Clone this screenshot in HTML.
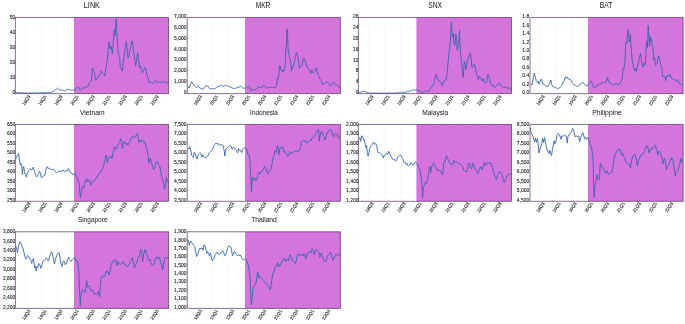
<!DOCTYPE html>
<html><head><meta charset="utf-8"><style>
html,body{margin:0;padding:0;background:#fff;}
svg{display:block;font-family:"Liberation Sans",sans-serif;}
</style></head><body>
<svg width="685" height="324" viewBox="0 0 685 324">
<rect width="685" height="324" fill="#fff"/>
<g><rect x="73.95" y="17.45" width="94.60" height="76.15" fill="#d474dc"/><line x1="25.30" y1="17.45" x2="25.30" y2="93.60" stroke="#f2f2f2" stroke-width="0.5"/><line x1="41.32" y1="17.45" x2="41.32" y2="93.60" stroke="#f2f2f2" stroke-width="0.5"/><line x1="57.34" y1="17.45" x2="57.34" y2="93.60" stroke="#f2f2f2" stroke-width="0.5"/><line x1="89.38" y1="17.45" x2="89.38" y2="93.60" stroke="#d880df" stroke-width="0.5"/><line x1="105.40" y1="17.45" x2="105.40" y2="93.60" stroke="#d880df" stroke-width="0.5"/><line x1="121.42" y1="17.45" x2="121.42" y2="93.60" stroke="#d880df" stroke-width="0.5"/><line x1="137.44" y1="17.45" x2="137.44" y2="93.60" stroke="#d880df" stroke-width="0.5"/><line x1="153.46" y1="17.45" x2="153.46" y2="93.60" stroke="#d880df" stroke-width="0.5"/><polyline points="15.80,92.60 16.49,92.59 17.17,92.61 17.86,92.64 18.54,92.53 19.23,92.56 19.91,92.65 20.60,92.60 21.30,92.61 22.00,92.70 22.70,92.86 23.40,92.92 24.10,92.86 24.80,92.95 25.50,92.95 26.20,93.10 26.91,93.06 27.61,93.10 28.32,93.05 29.02,93.10 29.73,93.02 30.44,92.97 31.14,93.01 31.85,92.99 32.56,92.93 33.26,92.96 33.97,92.98 34.67,92.82 35.38,93.10 36.09,93.08 36.79,92.89 37.50,92.90 38.20,93.10 38.90,92.87 39.60,92.96 40.30,92.71 41.00,92.83 41.70,92.83 42.40,92.60 43.10,92.85 43.80,92.59 44.50,92.64 45.20,92.71 45.90,92.79 46.60,92.61 47.30,92.46 48.00,92.64 48.70,92.60 49.38,92.41 50.06,92.41 50.74,92.19 51.42,92.16 52.10,92.00 52.83,91.52 53.57,91.32 54.30,90.90 54.94,90.46 55.58,89.54 56.22,89.19 56.86,88.73 57.50,88.10 58.13,88.68 58.77,89.42 59.40,89.80 60.10,89.86 60.80,89.99 61.50,90.08 62.20,90.10 62.97,90.31 63.73,90.62 64.50,90.90 65.23,90.45 65.97,90.06 66.70,89.60 67.40,89.54 68.10,89.46 68.80,89.67 69.50,89.40 70.35,89.74 71.20,90.10 71.97,90.21 72.73,90.07 73.50,90.30 74.23,89.77 74.97,89.54 75.70,89.00 76.47,88.34 77.23,87.51 78.00,87.00 78.55,87.44 79.10,87.50 80.00,90.30 80.65,89.70 81.30,89.00 82.07,88.63 82.83,88.55 83.60,88.10 84.28,87.53 84.96,87.71 85.64,87.34 86.32,87.23 87.00,86.70 87.80,86.23 88.60,85.90 89.25,83.47 89.90,81.60 90.55,81.45 91.20,81.00 91.80,74.63 92.40,68.00 93.05,69.65 93.70,70.50 94.30,73.18 94.90,76.00 95.50,78.30 96.10,80.30 96.75,79.34 97.40,77.90 98.00,76.82 98.60,76.52 99.20,76.00 99.83,74.40 100.47,72.73 101.10,71.10 101.70,71.82 102.30,73.17 102.90,74.20 103.53,74.19 104.17,74.93 104.80,76.00 105.40,72.19 106.00,67.40 106.60,64.16 107.20,60.00 108.00,51.50 109.00,41.60 110.00,48.90 110.65,46.37 111.30,46.20 111.85,50.64 112.40,53.50 113.30,41.60 114.30,29.60 115.00,35.60 115.70,25.00 116.20,18.60 117.00,36.90 117.70,45.50 118.30,52.90 119.00,55.65 119.70,56.80 120.20,66.10 120.83,67.59 121.47,69.48 122.10,71.10 122.70,67.45 123.30,61.20 123.95,57.31 124.60,52.00 125.50,47.00 126.30,41.60 127.20,48.20 128.10,58.00 128.90,56.00 129.90,50.20 130.55,47.02 131.20,43.60 131.75,41.85 132.30,40.90 133.20,48.90 133.85,53.26 134.50,57.00 135.50,65.80 136.05,63.14 136.60,61.20 137.60,52.70 138.60,60.40 139.60,68.10 140.40,65.80 141.00,67.87 141.60,71.20 142.15,71.95 142.70,72.70 143.25,71.73 143.80,69.70 144.40,68.32 145.00,67.30 145.80,69.96 146.60,73.50 147.35,76.22 148.10,78.10 148.90,82.80 149.65,82.12 150.40,81.20 151.20,82.47 152.00,83.50 152.75,83.47 153.50,82.80 154.27,82.04 155.03,81.35 155.80,80.40 156.55,81.80 157.30,82.80 158.10,82.29 158.90,81.98 159.70,81.70 160.47,82.26 161.23,82.03 162.00,82.40 162.60,81.63 163.20,81.66 163.80,81.20 164.60,82.00 165.40,83.20 166.15,82.38 166.90,82.00 167.50,83.00 168.10,83.80" fill="none" stroke="#3a68aa" stroke-width="0.92" stroke-linejoin="round"/><rect x="15.40" y="17.45" width="153.15" height="76.15" fill="none" stroke="#4a2556" stroke-opacity="0.65" stroke-width="1.0"/></g><g><rect x="245.05" y="17.45" width="95.35" height="76.15" fill="#d474dc"/><line x1="196.80" y1="17.45" x2="196.80" y2="93.60" stroke="#f2f2f2" stroke-width="0.5"/><line x1="212.82" y1="17.45" x2="212.82" y2="93.60" stroke="#f2f2f2" stroke-width="0.5"/><line x1="228.84" y1="17.45" x2="228.84" y2="93.60" stroke="#f2f2f2" stroke-width="0.5"/><line x1="260.88" y1="17.45" x2="260.88" y2="93.60" stroke="#d880df" stroke-width="0.5"/><line x1="276.90" y1="17.45" x2="276.90" y2="93.60" stroke="#d880df" stroke-width="0.5"/><line x1="292.92" y1="17.45" x2="292.92" y2="93.60" stroke="#d880df" stroke-width="0.5"/><line x1="308.94" y1="17.45" x2="308.94" y2="93.60" stroke="#d880df" stroke-width="0.5"/><line x1="324.96" y1="17.45" x2="324.96" y2="93.60" stroke="#d880df" stroke-width="0.5"/><polyline points="187.90,85.80 188.55,86.88 189.20,88.00 189.80,86.36 190.40,84.70 190.95,83.24 191.50,81.60 192.05,82.10 192.60,83.00 193.15,84.00 193.70,85.20 194.55,86.13 195.40,86.90 196.00,87.12 196.60,87.50 197.40,86.76 198.20,86.10 199.05,87.16 199.90,88.00 200.75,88.49 201.60,88.80 202.45,88.94 203.30,89.20 203.85,88.32 204.40,87.50 204.95,86.51 205.50,85.80 206.35,85.90 207.20,86.10 207.75,86.27 208.30,86.30 208.90,87.43 209.50,88.60 210.35,89.01 211.20,89.20 212.00,88.78 212.80,88.40 213.65,88.43 214.50,88.60 215.35,88.30 216.20,88.00 217.05,87.13 217.90,86.30 218.75,86.09 219.60,86.10 220.45,85.63 221.30,85.20 222.15,85.93 223.00,86.60 223.80,85.96 224.60,85.80 225.20,85.91 225.80,85.20 226.60,85.81 227.40,85.80 228.25,86.01 229.10,86.30 229.95,87.13 230.80,87.20 231.65,87.61 232.50,88.00 233.35,88.44 234.20,88.60 234.93,88.25 235.67,88.22 236.40,88.00 237.17,87.79 237.93,87.21 238.70,87.20 239.55,86.92 240.40,86.30 241.25,86.68 242.10,87.50 242.90,87.85 243.70,88.40 244.55,88.22 245.40,88.00 246.25,87.62 247.10,86.90 247.95,86.52 248.80,86.30 249.35,86.88 249.90,88.00 250.45,89.18 251.00,90.30 251.77,90.10 252.53,90.08 253.30,89.90 254.03,89.72 254.77,89.67 255.50,89.50 256.35,88.92 257.20,88.60 257.75,87.52 258.30,86.30 258.90,87.09 259.50,87.50 260.35,87.41 261.20,88.00 262.00,86.86 262.80,85.80 263.70,85.60 264.45,86.15 265.20,86.50 265.87,87.06 266.53,87.83 267.20,88.10 267.90,87.81 268.60,87.63 269.30,87.30 270.10,87.39 270.90,87.22 271.70,87.30 272.32,87.38 272.95,87.48 273.57,87.64 274.20,87.70 275.00,87.49 275.80,87.30 276.70,84.00 277.30,77.80 278.30,78.50 278.90,75.40 279.50,65.50 280.40,66.70 281.20,71.00 282.20,69.80 283.20,72.30 284.10,69.80 285.10,66.70 285.60,53.10 286.40,44.80 286.90,28.80 287.50,35.10 288.10,48.90 288.75,53.10 289.40,57.30 290.00,58.84 290.60,61.00 291.50,71.00 292.30,67.30 292.95,67.53 293.60,64.90 294.60,61.20 295.30,57.30 295.85,54.79 296.40,52.40 296.95,53.78 297.50,54.50 298.50,60.00 299.30,68.00 299.95,66.34 300.60,66.70 301.20,65.76 301.80,66.10 302.40,63.84 303.00,60.00 303.60,58.00 304.15,59.06 304.70,60.00 305.50,62.00 306.30,64.50 307.30,67.30 307.95,67.58 308.60,69.20 309.20,70.51 309.80,70.40 310.80,73.50 311.70,69.80 312.30,71.62 312.90,72.90 313.50,72.29 314.10,72.30 314.75,71.98 315.40,70.40 316.00,67.98 316.60,68.00 317.20,71.37 317.80,73.50 318.45,75.27 319.10,76.60 319.70,78.73 320.30,79.70 320.90,80.18 321.50,80.90 322.15,82.45 322.80,84.60 323.40,84.12 324.00,83.40 324.60,83.32 325.20,83.10 326.05,82.49 326.90,81.50 327.70,82.40 328.35,83.16 329.00,84.00 329.60,84.72 330.20,85.40 330.80,85.90 331.40,84.71 332.00,84.00 332.75,82.88 333.50,81.90 334.15,82.77 334.80,83.60 335.60,84.40 336.40,85.20 337.00,85.52 337.60,86.07 338.20,86.50 338.80,86.68 339.40,87.14 340.00,87.70" fill="none" stroke="#3a68aa" stroke-width="0.92" stroke-linejoin="round"/><rect x="187.25" y="17.45" width="153.15" height="76.15" fill="none" stroke="#4a2556" stroke-opacity="0.65" stroke-width="1.0"/></g><g><rect x="416.40" y="17.45" width="95.10" height="76.15" fill="#d474dc"/><line x1="368.30" y1="17.45" x2="368.30" y2="93.60" stroke="#f2f2f2" stroke-width="0.5"/><line x1="384.30" y1="17.45" x2="384.30" y2="93.60" stroke="#f2f2f2" stroke-width="0.5"/><line x1="400.30" y1="17.45" x2="400.30" y2="93.60" stroke="#f2f2f2" stroke-width="0.5"/><line x1="432.30" y1="17.45" x2="432.30" y2="93.60" stroke="#d880df" stroke-width="0.5"/><line x1="448.30" y1="17.45" x2="448.30" y2="93.60" stroke="#d880df" stroke-width="0.5"/><line x1="464.30" y1="17.45" x2="464.30" y2="93.60" stroke="#d880df" stroke-width="0.5"/><line x1="480.30" y1="17.45" x2="480.30" y2="93.60" stroke="#d880df" stroke-width="0.5"/><line x1="496.30" y1="17.45" x2="496.30" y2="93.60" stroke="#d880df" stroke-width="0.5"/><polyline points="358.90,92.50 359.52,92.34 360.15,92.21 360.77,92.09 361.40,91.90 362.10,91.63 362.80,91.46 363.50,91.35 364.20,91.10 364.93,91.41 365.67,91.81 366.40,92.20 367.10,92.47 367.80,92.67 368.50,92.75 369.20,93.00 369.91,93.03 370.62,93.02 371.34,93.10 372.05,93.10 372.76,93.10 373.47,93.10 374.19,93.10 374.90,93.10 375.60,93.10 376.30,93.10 377.00,93.10 377.70,93.10 378.40,93.10 379.10,93.10 379.80,93.10 380.50,93.10 381.20,93.10 381.90,93.10 382.60,93.10 383.30,93.10 384.00,93.10 384.70,93.10 385.40,93.10 386.10,93.10 386.82,93.10 387.54,93.10 388.26,93.10 388.99,93.10 389.71,93.10 390.43,93.10 391.15,93.10 391.87,93.10 392.59,92.97 393.31,93.10 394.04,93.02 394.76,93.10 395.48,92.98 396.20,93.00 396.88,92.94 397.56,92.68 398.24,92.75 398.92,92.72 399.60,92.50 400.30,92.22 401.00,92.40 401.70,92.44 402.40,92.36 403.10,92.49 403.80,92.26 404.50,92.28 405.20,92.20 405.88,92.14 406.56,91.91 407.24,91.83 407.92,91.71 408.60,91.60 409.33,91.36 410.07,91.06 410.80,90.80 411.57,90.40 412.33,90.28 413.10,89.70 413.83,89.86 414.57,90.07 415.30,90.20 416.07,89.97 416.83,89.97 417.60,90.00 418.33,90.47 419.07,90.74 419.80,91.10 420.50,91.34 421.20,91.92 421.90,92.20 422.60,92.50 423.45,91.84 424.30,91.30 425.00,91.37 425.70,90.99 426.40,91.26 427.10,91.10 427.83,91.05 428.57,91.06 429.30,90.80 429.90,89.61 430.50,88.50 431.20,87.64 431.90,87.10 432.50,85.96 433.10,84.69 433.70,83.40 434.45,80.81 435.20,77.80 435.80,75.89 436.40,74.10 437.40,78.50 438.00,80.13 438.60,81.50 439.25,81.40 439.90,80.90 440.50,81.53 441.10,82.80 441.70,84.29 442.30,85.90 442.95,83.72 443.60,81.50 444.20,80.60 444.80,79.70 445.40,79.80 446.00,80.30 446.65,76.61 447.30,72.90 447.90,63.60 448.60,58.00 449.00,51.50 449.90,46.20 450.60,36.90 451.30,22.30 451.90,30.30 452.60,36.90 453.30,33.60 453.90,43.50 454.90,45.50 455.90,34.20 456.60,39.50 457.20,50.20 458.20,44.90 459.00,39.50 459.60,30.30 459.90,43.50 460.60,54.10 461.20,58.10 461.90,66.10 462.70,76.00 463.30,77.20 464.00,63.60 464.60,61.20 465.60,69.80 466.40,67.30 467.05,62.63 467.70,59.90 468.40,57.00 469.40,55.50 469.95,53.25 470.50,52.80 471.20,60.00 471.90,67.40 472.50,67.65 473.10,66.70 473.70,65.64 474.30,63.70 475.20,67.40 476.20,72.30 477.20,75.40 477.80,77.00 478.40,79.70 479.00,78.21 479.60,76.00 480.25,77.92 480.90,79.10 481.50,79.96 482.10,81.00 483.00,78.50 483.60,80.38 484.20,82.20 484.85,83.31 485.50,83.40 486.10,82.73 486.70,81.60 487.30,77.96 487.90,74.20 488.80,76.00 489.80,79.70 490.80,84.00 491.40,84.85 492.00,85.90 492.60,85.67 493.20,85.30 493.85,86.47 494.50,87.80 495.25,86.68 496.00,85.90 496.70,85.30 497.40,84.70 498.05,83.99 498.70,82.80 499.30,83.68 499.90,84.70 500.70,85.14 501.50,85.90 502.30,86.67 503.10,87.10 503.70,87.27 504.30,87.37 504.90,87.40 505.70,87.35 506.50,86.90 507.10,87.67 507.70,88.40 508.30,88.17 508.90,87.80 509.55,88.48 510.20,89.00 510.80,89.24 511.40,89.60" fill="none" stroke="#3a68aa" stroke-width="0.92" stroke-linejoin="round"/><rect x="358.35" y="17.45" width="153.15" height="76.15" fill="none" stroke="#4a2556" stroke-opacity="0.65" stroke-width="1.0"/></g><g><rect x="587.95" y="17.45" width="95.20" height="76.15" fill="#d474dc"/><line x1="539.50" y1="17.45" x2="539.50" y2="93.60" stroke="#f2f2f2" stroke-width="0.5"/><line x1="555.55" y1="17.45" x2="555.55" y2="93.60" stroke="#f2f2f2" stroke-width="0.5"/><line x1="571.60" y1="17.45" x2="571.60" y2="93.60" stroke="#f2f2f2" stroke-width="0.5"/><line x1="603.70" y1="17.45" x2="603.70" y2="93.60" stroke="#d880df" stroke-width="0.5"/><line x1="619.75" y1="17.45" x2="619.75" y2="93.60" stroke="#d880df" stroke-width="0.5"/><line x1="635.80" y1="17.45" x2="635.80" y2="93.60" stroke="#d880df" stroke-width="0.5"/><line x1="651.85" y1="17.45" x2="651.85" y2="93.60" stroke="#d880df" stroke-width="0.5"/><line x1="667.90" y1="17.45" x2="667.90" y2="93.60" stroke="#d880df" stroke-width="0.5"/><polyline points="530.60,84.20 531.30,84.57 532.00,85.00 532.55,82.07 533.10,79.10 533.70,76.16 534.30,72.90 535.10,76.30 535.65,78.29 536.20,80.80 536.75,81.53 537.30,82.50 538.10,81.30 539.00,84.20 539.90,82.50 540.45,80.94 541.00,79.10 541.80,80.20 542.35,82.06 542.90,84.20 543.45,84.15 544.00,84.20 544.60,84.90 545.20,85.30 545.75,86.13 546.30,86.70 547.15,86.30 548.00,86.10 548.55,85.10 549.10,84.20 550.00,82.50 550.80,80.00 551.60,84.20 552.50,86.40 553.35,86.66 554.20,87.20 554.93,87.39 555.67,87.72 556.40,87.90 557.03,88.15 557.67,88.56 558.30,88.70 559.05,88.08 559.80,87.50 560.65,86.56 561.50,85.80 562.30,84.15 563.10,82.50 563.70,81.31 564.30,80.20 564.85,78.33 565.40,76.90 566.20,78.50 567.10,76.90 567.65,77.66 568.20,78.50 569.05,79.16 569.90,79.70 570.75,79.82 571.60,80.80 572.15,82.78 572.70,83.60 573.55,84.51 574.40,84.70 574.95,85.21 575.50,85.80 576.35,86.51 577.20,86.40 578.05,86.11 578.90,85.80 579.45,85.38 580.00,84.50 580.85,83.47 581.70,83.00 582.35,82.80 583.00,82.50 583.60,83.45 584.20,84.20 584.90,84.38 585.60,85.30 586.35,86.04 587.10,86.40 587.75,85.02 588.40,84.20 589.25,83.17 590.10,82.50 590.65,81.69 591.20,80.80 592.00,83.00 592.90,85.30 593.80,87.50 594.50,87.43 595.20,87.00 596.05,86.32 596.90,85.80 597.63,85.09 598.37,85.12 599.10,84.70 599.83,84.09 600.57,83.88 601.30,83.30 602.07,82.91 602.83,82.87 603.60,82.50 604.37,82.09 605.13,82.44 605.90,82.20 606.80,79.70 607.40,77.20 608.40,80.90 609.00,82.33 609.60,83.10 610.30,82.81 611.00,83.63 611.70,84.00 612.33,84.42 612.97,84.63 613.60,84.90 614.20,85.13 614.80,84.60 615.40,83.81 616.00,83.10 616.65,83.85 617.30,84.40 617.90,84.77 618.50,84.90 619.15,83.87 619.80,83.10 620.40,82.11 621.00,81.20 622.00,79.70 622.60,73.50 623.20,68.60 623.80,69.80 624.40,64.90 625.10,59.90 625.30,50.20 625.90,42.20 626.70,43.50 627.30,35.60 627.90,29.60 628.50,31.60 629.10,42.20 629.90,38.20 630.50,34.20 630.90,43.50 631.60,54.10 632.30,61.20 633.30,64.90 633.95,67.87 634.60,71.00 635.60,68.60 636.40,71.70 637.05,69.06 637.70,66.10 638.30,63.58 638.90,61.20 639.50,56.80 640.50,53.50 641.30,59.40 642.10,63.20 642.80,67.40 643.50,63.90 644.40,63.20 645.30,65.30 645.80,54.20 646.20,44.90 646.80,40.90 647.50,47.50 648.20,25.60 648.80,36.90 649.50,46.20 650.10,36.20 650.80,40.90 651.50,38.90 652.10,46.80 652.80,47.50 653.50,55.00 653.90,60.40 654.60,57.60 655.60,65.30 656.15,64.34 656.70,63.90 657.25,63.12 657.80,59.00 658.80,56.00 659.70,59.70 660.25,61.74 660.80,63.90 661.35,66.27 661.90,68.10 662.60,76.40 663.25,76.10 663.90,77.10 664.45,76.35 665.00,76.40 665.70,80.60 666.70,76.40 667.25,76.16 667.80,75.00 668.35,75.73 668.90,76.40 669.60,74.87 670.30,74.30 671.00,76.92 671.70,78.50 672.50,79.03 673.30,79.20 674.15,79.55 675.00,80.30 675.70,80.92 676.40,80.80 677.10,79.69 677.80,79.90 678.50,81.93 679.20,83.30 679.90,83.77 680.60,84.00 681.23,84.81 681.87,84.85 682.50,85.40" fill="none" stroke="#3a68aa" stroke-width="0.92" stroke-linejoin="round"/><rect x="530.00" y="17.45" width="153.15" height="76.15" fill="none" stroke="#4a2556" stroke-opacity="0.65" stroke-width="1.0"/></g><g><rect x="73.95" y="124.45" width="94.60" height="76.85" fill="#d474dc"/><line x1="25.30" y1="124.45" x2="25.30" y2="201.30" stroke="#f2f2f2" stroke-width="0.5"/><line x1="41.32" y1="124.45" x2="41.32" y2="201.30" stroke="#f2f2f2" stroke-width="0.5"/><line x1="57.34" y1="124.45" x2="57.34" y2="201.30" stroke="#f2f2f2" stroke-width="0.5"/><line x1="89.38" y1="124.45" x2="89.38" y2="201.30" stroke="#d880df" stroke-width="0.5"/><line x1="105.40" y1="124.45" x2="105.40" y2="201.30" stroke="#d880df" stroke-width="0.5"/><line x1="121.42" y1="124.45" x2="121.42" y2="201.30" stroke="#d880df" stroke-width="0.5"/><line x1="137.44" y1="124.45" x2="137.44" y2="201.30" stroke="#d880df" stroke-width="0.5"/><line x1="153.46" y1="124.45" x2="153.46" y2="201.30" stroke="#d880df" stroke-width="0.5"/><polyline points="15.80,159.00 16.35,157.48 16.90,156.10 17.70,154.90 18.50,153.40 19.10,157.30 19.70,161.00 20.20,164.80 20.90,163.50 21.80,166.00 22.40,174.60 23.30,166.60 23.90,167.20 24.60,172.80 25.50,174.60 26.40,177.10 27.30,172.80 27.95,171.89 28.60,170.90 29.35,170.23 30.10,169.10 30.90,169.25 31.70,170.30 32.50,168.48 33.30,167.20 33.90,169.64 34.50,171.50 35.10,173.02 35.70,175.20 36.60,177.10 37.20,176.01 37.80,175.20 38.60,173.80 39.40,171.50 40.30,172.80 41.30,177.70 41.85,177.55 42.40,176.50 43.00,175.86 43.60,175.90 44.25,175.41 44.90,175.20 45.90,170.30 46.50,167.20 47.30,166.60 48.30,168.50 48.95,167.97 49.60,168.50 50.20,168.72 50.80,169.55 51.40,169.70 52.03,169.43 52.67,169.91 53.30,169.10 54.05,169.92 54.80,170.90 55.60,171.51 56.40,172.80 57.20,172.14 58.00,171.50 58.70,171.12 59.40,170.90 60.05,171.17 60.70,172.20 61.30,171.18 61.90,170.30 62.53,170.61 63.17,169.86 63.80,170.90 64.40,172.03 65.00,171.48 65.60,170.30 66.35,170.47 67.10,170.90 67.70,171.12 68.30,168.50 68.95,169.43 69.60,170.30 70.40,172.26 71.20,172.80 71.80,172.95 72.40,174.60 73.20,174.62 74.00,174.40 74.60,174.15 75.20,173.40 75.80,176.00 76.45,175.98 77.10,178.10 77.75,180.04 78.40,180.70 79.10,183.30 79.70,191.10 80.40,197.60 81.00,193.70 81.70,189.10 82.60,186.60 83.60,187.80 84.50,184.00 85.50,180.70 86.05,178.89 86.60,178.80 87.50,182.00 88.50,180.10 89.10,179.94 89.70,180.70 90.70,185.30 91.60,182.70 92.35,182.13 93.10,181.40 93.85,181.48 94.60,180.10 95.25,179.17 95.90,178.80 96.55,177.07 97.20,177.50 97.85,176.00 98.50,174.20 99.30,173.19 100.10,173.00 100.70,172.29 101.30,171.00 101.95,169.40 102.60,168.40 103.25,167.04 103.90,165.20 104.45,161.88 105.00,160.00 105.90,155.00 106.70,157.00 107.40,163.00 108.30,158.00 108.95,157.46 109.60,156.30 110.20,157.54 110.80,157.30 111.40,156.45 112.00,158.60 112.90,153.60 113.80,150.50 114.50,146.80 115.40,149.30 116.00,148.83 116.60,148.70 117.60,145.60 118.15,144.40 118.70,142.50 119.70,141.30 120.70,138.60 121.50,141.90 122.40,148.70 123.40,144.40 124.40,141.30 125.00,142.64 125.60,143.80 126.25,144.58 126.90,143.10 127.50,143.93 128.10,145.00 128.70,143.70 129.30,141.90 129.95,141.30 130.60,140.00 131.20,138.16 131.80,137.00 132.40,136.56 133.00,136.30 133.65,137.16 134.30,138.20 134.90,137.12 135.50,135.70 136.10,135.34 136.70,135.10 137.60,133.60 138.20,137.60 138.80,142.50 139.45,141.01 140.10,140.00 140.70,142.00 141.30,141.30 141.90,140.50 142.50,139.80 143.15,141.40 143.80,142.50 144.60,141.30 145.60,144.40 146.60,148.70 147.50,153.00 148.30,156.10 148.80,163.00 149.60,159.30 150.30,158.00 150.85,159.50 151.40,163.00 151.95,163.84 152.50,165.90 153.50,169.50 154.05,169.07 154.60,167.30 155.20,165.55 155.80,163.70 156.80,161.50 157.55,161.56 158.30,163.00 159.00,165.23 159.70,165.90 160.70,170.90 161.60,176.70 162.60,179.60 163.60,183.30 164.50,189.10 165.50,185.40 166.20,177.50 166.80,179.27 167.40,180.40 168.40,182.50" fill="none" stroke="#3a68aa" stroke-width="0.92" stroke-linejoin="round"/><rect x="15.40" y="124.45" width="153.15" height="76.85" fill="none" stroke="#4a2556" stroke-opacity="0.65" stroke-width="1.0"/></g><g><rect x="245.05" y="124.45" width="95.35" height="76.85" fill="#d474dc"/><line x1="196.80" y1="124.45" x2="196.80" y2="201.30" stroke="#f2f2f2" stroke-width="0.5"/><line x1="212.82" y1="124.45" x2="212.82" y2="201.30" stroke="#f2f2f2" stroke-width="0.5"/><line x1="228.84" y1="124.45" x2="228.84" y2="201.30" stroke="#f2f2f2" stroke-width="0.5"/><line x1="260.88" y1="124.45" x2="260.88" y2="201.30" stroke="#d880df" stroke-width="0.5"/><line x1="276.90" y1="124.45" x2="276.90" y2="201.30" stroke="#d880df" stroke-width="0.5"/><line x1="292.92" y1="124.45" x2="292.92" y2="201.30" stroke="#d880df" stroke-width="0.5"/><line x1="308.94" y1="124.45" x2="308.94" y2="201.30" stroke="#d880df" stroke-width="0.5"/><line x1="324.96" y1="124.45" x2="324.96" y2="201.30" stroke="#d880df" stroke-width="0.5"/><polyline points="187.80,148.50 188.35,148.73 188.90,149.10 189.70,146.70 190.70,149.80 191.70,155.30 192.60,156.50 193.40,157.20 194.20,152.20 195.00,152.80 195.90,155.90 196.90,159.00 197.90,155.90 198.70,154.10 199.35,153.49 200.00,152.80 200.80,153.50 201.80,157.20 202.80,154.70 203.70,156.50 204.30,157.38 204.90,157.80 205.50,157.35 206.10,157.80 206.75,156.88 207.40,156.50 208.00,155.59 208.60,154.10 209.20,152.82 209.80,152.20 210.45,151.46 211.10,151.00 211.70,150.85 212.30,149.80 212.90,148.70 213.50,146.70 214.15,145.11 214.80,144.20 215.40,143.46 216.00,143.00 216.60,143.07 217.20,144.20 217.85,143.72 218.50,143.60 219.10,144.75 219.70,145.40 220.35,144.73 221.00,144.20 221.60,145.11 222.20,144.80 222.80,145.32 223.40,146.00 224.30,151.60 224.90,155.90 225.50,150.40 226.50,148.50 227.10,147.56 227.70,147.30 228.35,146.64 229.00,146.00 229.60,145.62 230.20,145.40 231.20,146.70 232.10,149.10 232.70,147.82 233.30,147.30 233.90,147.53 234.50,147.90 235.15,148.96 235.80,149.80 236.60,150.46 237.40,152.80 238.00,151.98 238.60,148.50 239.35,150.13 240.10,149.80 240.70,150.87 241.30,152.20 241.95,152.42 242.60,149.80 243.20,148.88 243.80,147.90 244.55,148.31 245.30,147.30 246.30,148.50 247.20,151.60 248.10,154.70 248.70,154.70 249.30,156.20 250.00,161.60 250.50,170.10 251.10,185.50 251.60,191.70 252.00,180.90 252.70,177.00 253.60,179.30 254.15,180.22 254.70,180.90 255.40,178.50 256.05,179.55 256.70,180.10 257.70,175.50 258.50,173.10 259.15,172.43 259.80,173.90 260.80,171.60 261.60,171.84 262.40,170.80 262.95,169.19 263.50,169.30 264.10,167.29 264.70,166.20 265.30,167.43 265.90,168.50 266.45,171.18 267.00,172.40 267.55,172.87 268.10,173.90 268.70,171.27 269.30,170.80 269.95,170.60 270.60,170.10 271.20,167.14 271.80,165.00 272.40,162.09 273.00,158.60 273.65,156.10 274.30,154.20 275.10,150.50 276.10,152.40 276.70,149.24 277.30,145.60 278.30,147.50 278.80,154.90 279.60,149.90 280.20,148.28 280.80,148.10 281.40,147.76 282.00,146.80 282.65,147.89 283.30,147.50 284.10,152.40 284.75,151.20 285.40,153.00 286.00,153.13 286.60,153.60 287.20,155.50 287.80,156.70 288.70,154.90 289.70,151.80 290.30,152.19 290.90,152.40 291.55,154.13 292.20,153.60 292.80,152.58 293.40,151.80 294.00,151.40 294.60,150.50 295.25,151.50 295.90,151.80 296.60,151.46 297.30,151.80 297.95,151.41 298.60,151.20 299.60,149.90 300.60,146.20 301.40,141.90 302.05,141.21 302.70,140.70 303.30,140.52 303.90,140.00 304.50,140.89 305.10,141.90 305.75,141.36 306.40,141.30 307.00,143.25 307.60,142.50 308.20,141.85 308.80,141.30 309.45,140.90 310.10,140.00 310.70,139.35 311.30,140.70 311.90,138.54 312.50,137.60 313.15,137.62 313.80,136.30 314.40,135.75 315.00,135.10 315.60,133.16 316.20,132.60 316.85,131.88 317.50,129.60 318.10,130.22 318.70,130.20 319.30,141.30 320.20,135.10 321.20,131.40 321.80,131.62 322.40,132.60 323.00,135.18 323.60,136.30 324.25,136.85 324.90,140.00 325.50,138.86 326.10,136.30 326.70,134.76 327.30,132.60 327.95,132.98 328.60,131.40 329.40,130.06 330.20,129.20 330.80,129.57 331.40,131.40 332.05,133.57 332.70,135.10 333.50,137.00 334.15,135.32 334.80,133.30 335.40,133.73 336.00,133.30 336.60,133.51 337.20,133.90 337.85,136.31 338.50,138.20 339.25,138.32 340.00,137.60" fill="none" stroke="#3a68aa" stroke-width="0.92" stroke-linejoin="round"/><rect x="187.25" y="124.45" width="153.15" height="76.85" fill="none" stroke="#4a2556" stroke-opacity="0.65" stroke-width="1.0"/></g><g><rect x="416.40" y="124.45" width="95.10" height="76.85" fill="#d474dc"/><line x1="368.30" y1="124.45" x2="368.30" y2="201.30" stroke="#f2f2f2" stroke-width="0.5"/><line x1="384.30" y1="124.45" x2="384.30" y2="201.30" stroke="#f2f2f2" stroke-width="0.5"/><line x1="400.30" y1="124.45" x2="400.30" y2="201.30" stroke="#f2f2f2" stroke-width="0.5"/><line x1="432.30" y1="124.45" x2="432.30" y2="201.30" stroke="#d880df" stroke-width="0.5"/><line x1="448.30" y1="124.45" x2="448.30" y2="201.30" stroke="#d880df" stroke-width="0.5"/><line x1="464.30" y1="124.45" x2="464.30" y2="201.30" stroke="#d880df" stroke-width="0.5"/><line x1="480.30" y1="124.45" x2="480.30" y2="201.30" stroke="#d880df" stroke-width="0.5"/><line x1="496.30" y1="124.45" x2="496.30" y2="201.30" stroke="#d880df" stroke-width="0.5"/><polyline points="358.90,138.20 359.90,137.60 360.70,141.30 361.70,135.70 362.70,137.00 363.60,140.00 364.40,139.40 365.20,144.40 366.00,147.50 366.60,145.60 367.30,152.40 368.10,156.10 369.10,152.40 369.70,148.70 370.35,147.08 371.00,145.60 371.60,145.04 372.20,144.40 372.80,143.38 373.40,141.90 374.05,142.70 374.70,144.40 375.30,143.83 375.90,143.80 376.80,145.60 377.50,150.50 378.10,152.04 378.70,153.00 379.35,152.67 380.00,153.00 380.60,153.46 381.20,154.20 381.80,155.30 382.40,155.50 383.30,158.00 384.20,155.50 384.80,155.65 385.40,154.90 386.00,153.91 386.60,153.60 387.25,153.76 387.90,154.20 388.60,151.20 389.50,153.60 390.10,154.32 390.70,156.10 391.35,156.87 392.00,158.00 392.60,159.15 393.20,159.80 393.80,159.43 394.40,159.20 395.05,160.71 395.70,161.00 396.30,160.02 396.90,159.20 397.50,157.61 398.10,156.70 398.75,156.09 399.40,155.50 400.00,155.12 400.60,154.90 401.20,155.72 401.80,157.30 402.45,158.48 403.10,159.80 403.70,161.46 404.30,162.90 404.90,162.06 405.50,162.90 406.30,164.43 407.10,163.30 407.70,165.38 408.30,165.50 408.95,164.82 409.60,164.40 410.40,164.87 411.20,162.50 412.00,163.88 412.80,165.20 413.60,165.11 414.40,163.60 415.05,162.05 415.70,162.00 416.50,162.92 417.30,163.60 418.10,165.90 418.90,167.70 419.70,169.03 420.50,172.50 421.10,176.34 421.70,178.90 422.50,198.20 423.30,188.50 423.85,186.04 424.40,185.30 425.40,182.10 425.95,182.44 426.50,183.70 427.05,181.38 427.60,178.90 428.25,175.63 428.90,170.90 429.70,166.00 430.25,168.97 430.80,172.50 431.45,168.17 432.10,166.00 432.75,164.55 433.40,162.80 433.95,163.19 434.50,164.40 435.30,166.34 436.10,167.70 436.90,169.00 437.70,170.90 438.50,170.74 439.30,170.10 440.10,170.18 440.90,171.70 441.70,173.61 442.50,174.90 443.10,169.99 443.70,163.60 444.30,161.30 444.90,162.00 445.70,158.63 446.50,155.60 447.15,157.55 447.80,158.80 448.40,160.09 449.00,161.20 449.80,163.53 450.60,163.60 451.40,164.28 452.20,165.20 453.00,163.05 453.80,160.40 454.60,161.95 455.40,162.80 456.20,162.06 457.00,162.00 457.80,162.71 458.60,163.60 459.27,163.78 459.93,164.30 460.60,164.40 461.25,165.04 461.90,165.80 462.60,166.96 463.30,168.60 464.00,171.00 464.70,170.70 465.40,171.35 466.10,172.10 466.80,170.95 467.50,169.30 468.20,165.20 468.90,163.10 469.45,163.14 470.00,164.40 471.00,168.60 471.90,167.90 472.50,166.17 473.10,163.10 473.65,164.50 474.20,165.80 475.10,169.30 475.80,169.31 476.50,170.70 477.20,172.88 477.90,173.50 478.60,172.07 479.30,170.00 480.00,167.87 480.70,166.50 481.40,168.98 482.10,170.00 482.80,166.95 483.50,166.50 484.40,162.40 485.00,164.81 485.60,165.80 486.15,164.76 486.70,163.10 487.40,163.73 488.10,162.40 488.75,162.86 489.40,163.80 490.10,162.72 490.80,163.10 491.80,166.50 492.80,167.20 493.35,170.67 493.90,173.50 494.60,175.72 495.30,177.60 495.85,179.08 496.40,179.70 497.40,174.90 498.10,173.41 498.80,172.10 499.45,172.01 500.10,171.40 500.80,172.87 501.50,173.50 502.20,175.19 502.90,178.30 503.60,180.23 504.30,182.50 505.30,179.70 506.00,178.40 506.70,177.00 507.25,176.30 507.80,175.60 508.50,174.17 509.20,173.50 509.90,173.86 510.60,174.20 511.40,174.90" fill="none" stroke="#3a68aa" stroke-width="0.92" stroke-linejoin="round"/><rect x="358.35" y="124.45" width="153.15" height="76.85" fill="none" stroke="#4a2556" stroke-opacity="0.65" stroke-width="1.0"/></g><g><rect x="587.95" y="124.45" width="95.20" height="76.85" fill="#d474dc"/><line x1="539.50" y1="124.45" x2="539.50" y2="201.30" stroke="#f2f2f2" stroke-width="0.5"/><line x1="555.55" y1="124.45" x2="555.55" y2="201.30" stroke="#f2f2f2" stroke-width="0.5"/><line x1="571.60" y1="124.45" x2="571.60" y2="201.30" stroke="#f2f2f2" stroke-width="0.5"/><line x1="603.70" y1="124.45" x2="603.70" y2="201.30" stroke="#d880df" stroke-width="0.5"/><line x1="619.75" y1="124.45" x2="619.75" y2="201.30" stroke="#d880df" stroke-width="0.5"/><line x1="635.80" y1="124.45" x2="635.80" y2="201.30" stroke="#d880df" stroke-width="0.5"/><line x1="651.85" y1="124.45" x2="651.85" y2="201.30" stroke="#d880df" stroke-width="0.5"/><line x1="667.90" y1="124.45" x2="667.90" y2="201.30" stroke="#d880df" stroke-width="0.5"/><polyline points="530.40,128.00 530.90,131.40 531.20,133.90 532.20,134.50 533.10,137.00 534.00,140.00 534.70,141.90 535.60,138.20 536.40,142.50 537.40,138.80 538.00,142.50 538.90,153.00 539.90,149.30 540.90,146.20 541.70,143.80 542.60,138.20 543.60,142.50 544.60,137.60 545.40,142.50 546.30,146.20 547.30,149.90 548.30,152.40 549.10,153.60 549.80,150.50 550.70,153.00 551.60,155.50 552.50,148.70 553.50,145.00 554.10,140.70 554.90,143.80 555.90,141.90 556.90,135.70 557.50,134.43 558.10,133.30 558.75,133.94 559.40,134.50 560.20,137.00 561.10,139.40 561.90,135.70 562.50,136.23 563.10,136.30 563.70,135.55 564.30,135.70 564.95,135.43 565.60,135.70 566.40,137.00 567.30,143.10 568.00,136.30 568.65,135.39 569.30,133.90 569.90,133.27 570.50,133.30 571.10,132.21 571.70,131.40 572.60,128.30 573.50,130.20 574.40,133.90 575.40,137.00 576.30,135.70 576.90,136.45 577.50,136.30 578.15,136.45 578.80,135.70 579.60,141.90 580.60,137.60 581.60,135.70 582.20,133.81 582.80,132.60 583.70,135.10 584.60,138.80 585.60,137.60 586.50,139.40 587.40,137.60 588.30,138.20 589.30,141.30 590.20,144.40 591.10,146.20 591.70,148.70 592.70,156.10 593.20,161.00 593.60,186.00 594.20,197.50 595.00,186.00 595.55,182.96 596.10,180.20 596.90,174.50 597.45,176.82 598.00,180.20 598.70,179.57 599.40,179.30 600.30,163.00 601.10,164.70 601.90,165.90 602.55,167.23 603.20,168.70 603.85,170.31 604.50,170.70 605.10,172.02 605.70,173.50 606.35,171.76 607.00,170.70 607.70,172.59 608.40,174.50 609.15,173.92 609.90,173.50 610.53,172.82 611.17,172.83 611.80,172.60 612.60,168.86 613.40,164.90 614.05,159.26 614.70,155.30 615.35,155.23 616.00,152.50 616.80,152.03 617.60,149.60 618.35,148.97 619.10,148.60 619.75,150.52 620.40,149.60 621.40,155.30 622.15,154.38 622.90,153.40 623.60,156.01 624.30,157.20 624.95,158.40 625.60,161.10 626.35,162.17 627.10,163.00 627.90,163.70 628.70,163.90 629.33,164.13 629.97,167.14 630.60,167.80 631.25,162.64 631.90,159.20 632.60,156.79 633.30,155.30 634.15,154.88 635.00,154.30 635.55,156.98 636.10,158.20 636.75,161.77 637.40,165.90 638.15,161.72 638.90,159.70 639.70,157.95 640.50,155.90 641.25,154.69 642.00,154.30 642.75,154.19 643.50,153.50 644.30,151.30 645.10,149.70 645.85,147.99 646.60,145.80 647.25,145.88 647.90,147.40 648.45,150.41 649.00,152.80 650.00,149.70 650.65,150.44 651.30,149.70 651.90,147.40 652.50,148.10 653.05,147.58 653.60,147.40 654.20,146.55 654.80,145.00 655.35,145.89 655.90,146.60 656.50,149.68 657.10,150.50 657.80,155.10 658.40,153.03 659.00,151.20 659.75,152.25 660.50,152.80 661.15,155.45 661.80,157.40 662.35,160.16 662.90,163.60 663.65,160.81 664.40,158.20 664.95,160.01 665.50,162.00 666.40,169.80 666.95,168.42 667.50,166.70 668.25,165.49 669.00,164.40 669.80,161.46 670.60,159.00 671.15,159.55 671.70,157.40 672.30,158.50 672.90,159.70 673.55,163.85 674.20,167.50 675.20,176.00 675.85,173.05 676.50,172.10 677.05,170.69 677.60,170.50 678.20,169.67 678.80,167.50 679.35,165.60 679.90,163.60 680.60,158.20 681.15,159.41 681.70,162.00 682.60,161.30" fill="none" stroke="#3a68aa" stroke-width="0.92" stroke-linejoin="round"/><rect x="530.00" y="124.45" width="153.15" height="76.85" fill="none" stroke="#4a2556" stroke-opacity="0.65" stroke-width="1.0"/></g><g><rect x="73.95" y="231.80" width="94.60" height="76.60" fill="#d474dc"/><line x1="25.30" y1="231.80" x2="25.30" y2="308.40" stroke="#f2f2f2" stroke-width="0.5"/><line x1="41.32" y1="231.80" x2="41.32" y2="308.40" stroke="#f2f2f2" stroke-width="0.5"/><line x1="57.34" y1="231.80" x2="57.34" y2="308.40" stroke="#f2f2f2" stroke-width="0.5"/><line x1="89.38" y1="231.80" x2="89.38" y2="308.40" stroke="#d880df" stroke-width="0.5"/><line x1="105.40" y1="231.80" x2="105.40" y2="308.40" stroke="#d880df" stroke-width="0.5"/><line x1="121.42" y1="231.80" x2="121.42" y2="308.40" stroke="#d880df" stroke-width="0.5"/><line x1="137.44" y1="231.80" x2="137.44" y2="308.40" stroke="#d880df" stroke-width="0.5"/><line x1="153.46" y1="231.80" x2="153.46" y2="308.40" stroke="#d880df" stroke-width="0.5"/><polyline points="15.80,246.10 16.35,247.88 16.90,249.80 17.50,252.90 18.50,246.10 19.10,243.99 19.70,241.80 20.60,242.40 21.40,244.30 22.20,247.30 23.00,248.00 23.90,252.30 24.90,256.60 25.90,259.10 26.70,257.20 27.60,255.40 28.60,256.60 29.60,258.50 30.20,259.63 30.80,260.30 31.70,263.40 32.50,260.30 33.50,258.50 34.50,267.70 35.40,265.90 36.00,270.80 37.00,266.50 37.80,267.70 38.70,263.40 39.70,264.60 40.30,266.00 40.90,268.30 41.90,265.20 42.80,261.50 43.40,260.63 44.00,260.30 44.60,260.29 45.20,259.70 45.85,258.42 46.50,257.80 47.30,259.70 47.95,260.16 48.60,260.90 49.60,256.60 50.20,255.50 50.80,253.50 51.80,251.70 52.70,254.80 53.50,259.70 54.50,264.00 55.50,259.10 56.10,257.70 56.70,255.40 57.35,253.81 58.00,252.90 58.60,252.76 59.20,252.90 60.10,258.50 60.90,263.40 61.90,266.50 62.90,262.20 63.80,260.90 64.40,262.22 65.00,264.60 65.60,264.12 66.20,264.00 66.85,262.10 67.50,259.70 68.10,258.38 68.70,257.20 69.30,259.06 69.90,259.70 70.55,260.52 71.20,261.50 71.80,260.26 72.40,259.70 73.00,259.09 73.60,258.50 74.60,257.20 75.50,260.90 76.10,260.52 76.70,260.30 77.70,262.80 78.20,267.00 78.70,270.00 79.20,280.00 79.70,293.30 80.30,305.80 80.80,296.70 81.70,291.70 82.50,289.20 83.10,289.62 83.70,290.80 84.35,291.58 85.00,292.50 85.80,287.50 86.70,280.80 87.50,287.50 88.10,286.76 88.70,285.80 89.35,285.81 90.00,287.50 90.65,290.48 91.30,290.80 91.90,291.38 92.50,290.00 93.10,291.12 93.70,292.50 94.35,294.32 95.00,293.30 95.65,294.18 96.30,295.00 96.90,294.86 97.50,293.30 98.10,291.75 98.70,291.70 99.70,296.70 100.30,285.00 101.30,277.50 101.90,276.77 102.50,275.80 103.10,276.90 103.70,277.50 104.35,275.58 105.00,275.80 105.80,271.70 106.40,271.89 107.00,270.80 108.00,273.30 108.60,273.29 109.20,275.00 109.75,272.04 110.30,270.00 111.20,264.70 111.85,263.23 112.50,261.60 113.10,261.73 113.70,260.40 114.30,260.42 114.90,261.00 115.90,259.80 116.80,265.90 117.70,262.20 118.30,261.42 118.90,262.80 119.50,263.90 120.10,264.70 121.10,263.50 122.10,262.80 122.70,261.79 123.30,261.60 124.20,263.50 124.80,264.69 125.40,265.30 126.05,265.30 126.70,265.90 127.30,266.44 127.90,266.50 128.50,264.88 129.10,264.70 129.75,263.16 130.40,261.00 131.00,260.49 131.60,258.50 132.20,257.65 132.80,259.80 133.80,264.70 134.70,267.80 135.70,264.70 136.50,263.50 137.40,261.00 138.40,256.70 139.40,256.70 140.20,251.70 140.90,249.30 141.90,253.60 142.70,261.60 143.60,254.80 144.60,249.90 145.60,249.90 146.40,253.60 147.30,254.80 148.30,259.80 149.30,260.40 150.10,259.10 150.75,261.43 151.40,264.10 152.00,265.05 152.60,265.30 153.20,265.09 153.80,264.70 154.70,261.00 155.70,257.90 156.70,256.70 157.30,258.43 157.90,257.90 158.80,257.90 159.60,257.30 160.60,262.80 161.60,264.70 162.50,270.20 163.30,265.90 164.30,259.80 165.30,257.30 165.90,257.48 166.50,257.90 167.25,257.85 168.00,257.30" fill="none" stroke="#3a68aa" stroke-width="0.92" stroke-linejoin="round"/><rect x="15.40" y="231.80" width="153.15" height="76.60" fill="none" stroke="#4a2556" stroke-opacity="0.65" stroke-width="1.0"/></g><g><rect x="245.05" y="231.80" width="95.35" height="76.60" fill="#d474dc"/><line x1="196.80" y1="231.80" x2="196.80" y2="308.40" stroke="#f2f2f2" stroke-width="0.5"/><line x1="212.82" y1="231.80" x2="212.82" y2="308.40" stroke="#f2f2f2" stroke-width="0.5"/><line x1="228.84" y1="231.80" x2="228.84" y2="308.40" stroke="#f2f2f2" stroke-width="0.5"/><line x1="260.88" y1="231.80" x2="260.88" y2="308.40" stroke="#d880df" stroke-width="0.5"/><line x1="276.90" y1="231.80" x2="276.90" y2="308.40" stroke="#d880df" stroke-width="0.5"/><line x1="292.92" y1="231.80" x2="292.92" y2="308.40" stroke="#d880df" stroke-width="0.5"/><line x1="308.94" y1="231.80" x2="308.94" y2="308.40" stroke="#d880df" stroke-width="0.5"/><line x1="324.96" y1="231.80" x2="324.96" y2="308.40" stroke="#d880df" stroke-width="0.5"/><polyline points="187.60,239.80 188.50,241.00 189.20,245.30 190.10,242.30 191.00,241.00 191.90,242.90 192.90,244.70 193.80,245.30 194.70,246.60 195.60,251.50 196.60,256.50 197.50,254.60 198.40,252.80 199.30,248.40 200.30,248.40 201.20,249.00 202.10,247.80 203.00,250.30 204.00,244.70 204.90,245.30 205.80,249.00 206.80,253.40 207.70,251.50 208.60,254.00 209.50,255.80 210.50,252.80 211.40,257.10 212.30,260.80 213.20,258.90 214.20,258.30 215.10,254.60 216.00,253.40 216.60,252.68 217.20,252.10 218.10,254.00 219.10,254.60 219.70,254.04 220.30,253.40 220.95,252.98 221.60,252.10 222.20,251.05 222.80,250.90 223.80,252.80 224.70,255.80 225.50,255.20 226.50,252.80 227.50,247.80 228.40,246.00 229.00,245.73 229.60,246.00 230.20,246.89 230.80,247.20 231.70,250.90 232.40,255.80 233.30,254.00 234.30,251.50 234.85,251.82 235.40,252.80 236.40,254.60 237.00,255.06 237.60,255.80 238.25,255.65 238.90,254.60 239.80,255.80 240.70,255.20 241.60,257.70 242.60,259.50 243.50,260.20 244.40,259.50 245.30,258.30 246.30,259.50 247.10,262.50 247.70,264.20 248.30,265.00 249.20,270.00 250.00,276.70 250.50,288.30 251.30,305.00 252.00,298.30 253.00,288.30 253.60,286.71 254.20,285.80 254.75,284.86 255.30,284.20 256.30,281.70 257.20,273.30 258.00,271.70 258.70,278.30 259.70,276.70 260.25,276.57 260.80,277.50 261.40,278.17 262.00,279.20 262.65,279.85 263.30,280.00 264.00,280.78 264.70,281.70 265.25,283.11 265.80,283.30 266.40,283.67 267.00,284.20 268.00,285.80 268.60,286.31 269.20,287.50 269.75,288.74 270.30,290.00 271.30,284.20 272.20,277.50 273.00,273.30 273.60,271.97 274.20,270.80 275.00,267.50 275.65,266.72 276.30,266.70 276.90,264.53 277.50,262.50 278.10,264.71 278.70,266.70 279.35,265.01 280.00,265.00 280.60,265.23 281.20,262.80 281.85,262.28 282.50,259.80 283.10,259.02 283.70,258.50 284.70,259.10 285.60,261.60 286.40,259.10 287.40,259.80 288.40,261.00 289.30,257.30 290.10,254.80 291.10,256.70 292.10,258.50 292.70,260.87 293.30,260.40 293.95,261.33 294.60,262.20 295.40,263.50 296.30,260.40 297.30,256.00 298.30,253.60 299.10,254.80 300.00,256.00 301.00,254.80 302.00,254.20 302.60,255.51 303.20,255.40 304.10,253.60 304.90,254.20 305.70,259.10 306.50,256.00 307.40,254.20 308.00,252.50 308.60,252.30 309.60,251.10 310.60,253.00 311.50,250.50 312.30,248.60 313.30,251.10 314.30,254.80 315.20,251.70 316.00,249.30 317.00,249.90 318.00,251.10 318.90,252.30 319.80,257.30 320.50,254.80 321.40,253.00 322.20,254.80 323.20,259.10 324.20,260.40 324.80,261.42 325.40,262.20 326.30,259.80 326.90,258.15 327.50,256.00 328.40,254.80 329.40,254.20 330.40,252.30 331.20,254.20 332.10,257.90 333.10,260.40 334.10,258.50 334.90,255.40 335.55,254.33 336.20,255.40 336.80,255.74 337.40,254.80 338.00,253.64 338.60,254.20 339.30,254.64 340.00,256.00" fill="none" stroke="#3a68aa" stroke-width="0.92" stroke-linejoin="round"/><rect x="187.25" y="231.80" width="153.15" height="76.60" fill="none" stroke="#4a2556" stroke-opacity="0.65" stroke-width="1.0"/></g>
<defs><filter id="gs" x="0" y="0" width="1" height="1"><feColorMatrix type="saturate" values="0"/></filter></defs>
<g filter="url(#gs)"><text transform="translate(83.85,7.85) scale(1,1.12)" font-size="7.4" textLength="16.1" lengthAdjust="spacingAndGlyphs" fill="#111">LINK</text><text transform="translate(15.40,18.70) scale(1,1.1)" font-size="5" text-anchor="end" fill="#111" stroke="#111" stroke-width="0.08">50</text><text transform="translate(15.40,33.76) scale(1,1.1)" font-size="5" text-anchor="end" fill="#111" stroke="#111" stroke-width="0.08">40</text><text transform="translate(15.40,48.82) scale(1,1.1)" font-size="5" text-anchor="end" fill="#111" stroke="#111" stroke-width="0.08">30</text><text transform="translate(15.40,63.88) scale(1,1.1)" font-size="5" text-anchor="end" fill="#111" stroke="#111" stroke-width="0.08">20</text><text transform="translate(15.40,78.94) scale(1,1.1)" font-size="5" text-anchor="end" fill="#111" stroke="#111" stroke-width="0.08">10</text><text transform="translate(15.40,94.00) scale(1,1.1)" font-size="5" text-anchor="end" fill="#111" stroke="#111" stroke-width="0.08">0</text><text transform="translate(26.30,100.25) rotate(-57)" font-size="4.6" text-anchor="middle" dy="1.6" fill="#111" stroke="#111" stroke-width="0.1">18Q3</text><text transform="translate(42.32,100.25) rotate(-57)" font-size="4.6" text-anchor="middle" dy="1.6" fill="#111" stroke="#111" stroke-width="0.1">19Q1</text><text transform="translate(58.34,100.25) rotate(-57)" font-size="4.6" text-anchor="middle" dy="1.6" fill="#111" stroke="#111" stroke-width="0.1">19Q3</text><text transform="translate(74.36,100.25) rotate(-57)" font-size="4.6" text-anchor="middle" dy="1.6" fill="#111" stroke="#111" stroke-width="0.1">20Q1</text><text transform="translate(90.38,100.25) rotate(-57)" font-size="4.6" text-anchor="middle" dy="1.6" fill="#111" stroke="#111" stroke-width="0.1">20Q3</text><text transform="translate(106.40,100.25) rotate(-57)" font-size="4.6" text-anchor="middle" dy="1.6" fill="#111" stroke="#111" stroke-width="0.1">21Q1</text><text transform="translate(122.42,100.25) rotate(-57)" font-size="4.6" text-anchor="middle" dy="1.6" fill="#111" stroke="#111" stroke-width="0.1">21Q3</text><text transform="translate(138.44,100.25) rotate(-57)" font-size="4.6" text-anchor="middle" dy="1.6" fill="#111" stroke="#111" stroke-width="0.1">22Q1</text><text transform="translate(154.46,100.25) rotate(-57)" font-size="4.6" text-anchor="middle" dy="1.6" fill="#111" stroke="#111" stroke-width="0.1">22Q3</text><text transform="translate(255.70,7.85) scale(1,1.12)" font-size="7.4" textLength="14.6" lengthAdjust="spacingAndGlyphs" fill="#111">MKR</text><text transform="translate(186.55,18.20) scale(1,1.1)" font-size="5" text-anchor="end" fill="#111" stroke="#111" stroke-width="0.08">7,000</text><text transform="translate(186.55,29.01) scale(1,1.1)" font-size="5" text-anchor="end" fill="#111" stroke="#111" stroke-width="0.08">6,000</text><text transform="translate(186.55,39.83) scale(1,1.1)" font-size="5" text-anchor="end" fill="#111" stroke="#111" stroke-width="0.08">5,000</text><text transform="translate(186.55,50.64) scale(1,1.1)" font-size="5" text-anchor="end" fill="#111" stroke="#111" stroke-width="0.08">4,000</text><text transform="translate(186.55,61.46) scale(1,1.1)" font-size="5" text-anchor="end" fill="#111" stroke="#111" stroke-width="0.08">3,000</text><text transform="translate(186.55,72.27) scale(1,1.1)" font-size="5" text-anchor="end" fill="#111" stroke="#111" stroke-width="0.08">2,000</text><text transform="translate(186.55,83.09) scale(1,1.1)" font-size="5" text-anchor="end" fill="#111" stroke="#111" stroke-width="0.08">1,000</text><text transform="translate(186.55,93.90) scale(1,1.1)" font-size="5" text-anchor="end" fill="#111" stroke="#111" stroke-width="0.08">0</text><text transform="translate(197.80,100.25) rotate(-57)" font-size="4.6" text-anchor="middle" dy="1.6" fill="#111" stroke="#111" stroke-width="0.1">18Q3</text><text transform="translate(213.82,100.25) rotate(-57)" font-size="4.6" text-anchor="middle" dy="1.6" fill="#111" stroke="#111" stroke-width="0.1">19Q1</text><text transform="translate(229.84,100.25) rotate(-57)" font-size="4.6" text-anchor="middle" dy="1.6" fill="#111" stroke="#111" stroke-width="0.1">19Q3</text><text transform="translate(245.86,100.25) rotate(-57)" font-size="4.6" text-anchor="middle" dy="1.6" fill="#111" stroke="#111" stroke-width="0.1">20Q1</text><text transform="translate(261.88,100.25) rotate(-57)" font-size="4.6" text-anchor="middle" dy="1.6" fill="#111" stroke="#111" stroke-width="0.1">20Q3</text><text transform="translate(277.90,100.25) rotate(-57)" font-size="4.6" text-anchor="middle" dy="1.6" fill="#111" stroke="#111" stroke-width="0.1">21Q1</text><text transform="translate(293.92,100.25) rotate(-57)" font-size="4.6" text-anchor="middle" dy="1.6" fill="#111" stroke="#111" stroke-width="0.1">21Q3</text><text transform="translate(309.94,100.25) rotate(-57)" font-size="4.6" text-anchor="middle" dy="1.6" fill="#111" stroke="#111" stroke-width="0.1">22Q1</text><text transform="translate(325.96,100.25) rotate(-57)" font-size="4.6" text-anchor="middle" dy="1.6" fill="#111" stroke="#111" stroke-width="0.1">22Q3</text><text transform="translate(428.30,7.85) scale(1,1.12)" font-size="7.4" textLength="13.8" lengthAdjust="spacingAndGlyphs" fill="#111">SNX</text><text transform="translate(358.55,18.10) scale(1,1.1)" font-size="5" text-anchor="end" fill="#111" stroke="#111" stroke-width="0.08">28</text><text transform="translate(358.55,28.96) scale(1,1.1)" font-size="5" text-anchor="end" fill="#111" stroke="#111" stroke-width="0.08">24</text><text transform="translate(358.55,39.81) scale(1,1.1)" font-size="5" text-anchor="end" fill="#111" stroke="#111" stroke-width="0.08">20</text><text transform="translate(358.55,50.67) scale(1,1.1)" font-size="5" text-anchor="end" fill="#111" stroke="#111" stroke-width="0.08">16</text><text transform="translate(358.55,61.53) scale(1,1.1)" font-size="5" text-anchor="end" fill="#111" stroke="#111" stroke-width="0.08">12</text><text transform="translate(358.55,72.39) scale(1,1.1)" font-size="5" text-anchor="end" fill="#111" stroke="#111" stroke-width="0.08">8</text><text transform="translate(358.55,83.24) scale(1,1.1)" font-size="5" text-anchor="end" fill="#111" stroke="#111" stroke-width="0.08">4</text><text transform="translate(358.55,94.10) scale(1,1.1)" font-size="5" text-anchor="end" fill="#111" stroke="#111" stroke-width="0.08">0</text><text transform="translate(369.30,100.25) rotate(-57)" font-size="4.6" text-anchor="middle" dy="1.6" fill="#111" stroke="#111" stroke-width="0.1">18Q3</text><text transform="translate(385.30,100.25) rotate(-57)" font-size="4.6" text-anchor="middle" dy="1.6" fill="#111" stroke="#111" stroke-width="0.1">19Q1</text><text transform="translate(401.30,100.25) rotate(-57)" font-size="4.6" text-anchor="middle" dy="1.6" fill="#111" stroke="#111" stroke-width="0.1">19Q3</text><text transform="translate(417.30,100.25) rotate(-57)" font-size="4.6" text-anchor="middle" dy="1.6" fill="#111" stroke="#111" stroke-width="0.1">20Q1</text><text transform="translate(433.30,100.25) rotate(-57)" font-size="4.6" text-anchor="middle" dy="1.6" fill="#111" stroke="#111" stroke-width="0.1">20Q3</text><text transform="translate(449.30,100.25) rotate(-57)" font-size="4.6" text-anchor="middle" dy="1.6" fill="#111" stroke="#111" stroke-width="0.1">21Q1</text><text transform="translate(465.30,100.25) rotate(-57)" font-size="4.6" text-anchor="middle" dy="1.6" fill="#111" stroke="#111" stroke-width="0.1">21Q3</text><text transform="translate(481.30,100.25) rotate(-57)" font-size="4.6" text-anchor="middle" dy="1.6" fill="#111" stroke="#111" stroke-width="0.1">22Q1</text><text transform="translate(497.30,100.25) rotate(-57)" font-size="4.6" text-anchor="middle" dy="1.6" fill="#111" stroke="#111" stroke-width="0.1">22Q3</text><text transform="translate(599.75,7.85) scale(1,1.12)" font-size="7.4" textLength="12.5" lengthAdjust="spacingAndGlyphs" fill="#111">BAT</text><text transform="translate(529.30,18.30) scale(1,1.1)" font-size="5" text-anchor="end" fill="#111" stroke="#111" stroke-width="0.08">1.8</text><text transform="translate(529.30,26.71) scale(1,1.1)" font-size="5" text-anchor="end" fill="#111" stroke="#111" stroke-width="0.08">1.6</text><text transform="translate(529.30,35.12) scale(1,1.1)" font-size="5" text-anchor="end" fill="#111" stroke="#111" stroke-width="0.08">1.4</text><text transform="translate(529.30,43.53) scale(1,1.1)" font-size="5" text-anchor="end" fill="#111" stroke="#111" stroke-width="0.08">1.2</text><text transform="translate(529.30,51.94) scale(1,1.1)" font-size="5" text-anchor="end" fill="#111" stroke="#111" stroke-width="0.08">1.0</text><text transform="translate(529.30,60.36) scale(1,1.1)" font-size="5" text-anchor="end" fill="#111" stroke="#111" stroke-width="0.08">0.8</text><text transform="translate(529.30,68.77) scale(1,1.1)" font-size="5" text-anchor="end" fill="#111" stroke="#111" stroke-width="0.08">0.6</text><text transform="translate(529.30,77.18) scale(1,1.1)" font-size="5" text-anchor="end" fill="#111" stroke="#111" stroke-width="0.08">0.4</text><text transform="translate(529.30,85.59) scale(1,1.1)" font-size="5" text-anchor="end" fill="#111" stroke="#111" stroke-width="0.08">0.2</text><text transform="translate(529.30,94.00) scale(1,1.1)" font-size="5" text-anchor="end" fill="#111" stroke="#111" stroke-width="0.08">0.0</text><text transform="translate(540.50,100.25) rotate(-57)" font-size="4.6" text-anchor="middle" dy="1.6" fill="#111" stroke="#111" stroke-width="0.1">18Q3</text><text transform="translate(556.55,100.25) rotate(-57)" font-size="4.6" text-anchor="middle" dy="1.6" fill="#111" stroke="#111" stroke-width="0.1">19Q1</text><text transform="translate(572.60,100.25) rotate(-57)" font-size="4.6" text-anchor="middle" dy="1.6" fill="#111" stroke="#111" stroke-width="0.1">19Q3</text><text transform="translate(588.65,100.25) rotate(-57)" font-size="4.6" text-anchor="middle" dy="1.6" fill="#111" stroke="#111" stroke-width="0.1">20Q1</text><text transform="translate(604.70,100.25) rotate(-57)" font-size="4.6" text-anchor="middle" dy="1.6" fill="#111" stroke="#111" stroke-width="0.1">20Q3</text><text transform="translate(620.75,100.25) rotate(-57)" font-size="4.6" text-anchor="middle" dy="1.6" fill="#111" stroke="#111" stroke-width="0.1">21Q1</text><text transform="translate(636.80,100.25) rotate(-57)" font-size="4.6" text-anchor="middle" dy="1.6" fill="#111" stroke="#111" stroke-width="0.1">21Q3</text><text transform="translate(652.85,100.25) rotate(-57)" font-size="4.6" text-anchor="middle" dy="1.6" fill="#111" stroke="#111" stroke-width="0.1">22Q1</text><text transform="translate(668.90,100.25) rotate(-57)" font-size="4.6" text-anchor="middle" dy="1.6" fill="#111" stroke="#111" stroke-width="0.1">22Q3</text><text transform="translate(80.00,114.65) scale(1,1.0)" font-size="6.7" textLength="24.6" lengthAdjust="spacingAndGlyphs" fill="#111">Vietnam</text><text transform="translate(15.40,125.90) scale(1,1.1)" font-size="5" text-anchor="end" fill="#111" stroke="#111" stroke-width="0.08">650</text><text transform="translate(15.40,135.36) scale(1,1.1)" font-size="5" text-anchor="end" fill="#111" stroke="#111" stroke-width="0.08">600</text><text transform="translate(15.40,144.83) scale(1,1.1)" font-size="5" text-anchor="end" fill="#111" stroke="#111" stroke-width="0.08">550</text><text transform="translate(15.40,154.29) scale(1,1.1)" font-size="5" text-anchor="end" fill="#111" stroke="#111" stroke-width="0.08">500</text><text transform="translate(15.40,163.75) scale(1,1.1)" font-size="5" text-anchor="end" fill="#111" stroke="#111" stroke-width="0.08">450</text><text transform="translate(15.40,173.21) scale(1,1.1)" font-size="5" text-anchor="end" fill="#111" stroke="#111" stroke-width="0.08">400</text><text transform="translate(15.40,182.67) scale(1,1.1)" font-size="5" text-anchor="end" fill="#111" stroke="#111" stroke-width="0.08">350</text><text transform="translate(15.40,192.14) scale(1,1.1)" font-size="5" text-anchor="end" fill="#111" stroke="#111" stroke-width="0.08">300</text><text transform="translate(15.40,201.60) scale(1,1.1)" font-size="5" text-anchor="end" fill="#111" stroke="#111" stroke-width="0.08">250</text><text transform="translate(26.30,207.20) rotate(-57)" font-size="4.6" text-anchor="middle" dy="1.6" fill="#111" stroke="#111" stroke-width="0.1">18Q3</text><text transform="translate(42.32,207.20) rotate(-57)" font-size="4.6" text-anchor="middle" dy="1.6" fill="#111" stroke="#111" stroke-width="0.1">19Q1</text><text transform="translate(58.34,207.20) rotate(-57)" font-size="4.6" text-anchor="middle" dy="1.6" fill="#111" stroke="#111" stroke-width="0.1">19Q3</text><text transform="translate(74.36,207.20) rotate(-57)" font-size="4.6" text-anchor="middle" dy="1.6" fill="#111" stroke="#111" stroke-width="0.1">20Q1</text><text transform="translate(90.38,207.20) rotate(-57)" font-size="4.6" text-anchor="middle" dy="1.6" fill="#111" stroke="#111" stroke-width="0.1">20Q3</text><text transform="translate(106.40,207.20) rotate(-57)" font-size="4.6" text-anchor="middle" dy="1.6" fill="#111" stroke="#111" stroke-width="0.1">21Q1</text><text transform="translate(122.42,207.20) rotate(-57)" font-size="4.6" text-anchor="middle" dy="1.6" fill="#111" stroke="#111" stroke-width="0.1">21Q3</text><text transform="translate(138.44,207.20) rotate(-57)" font-size="4.6" text-anchor="middle" dy="1.6" fill="#111" stroke="#111" stroke-width="0.1">22Q1</text><text transform="translate(154.46,207.20) rotate(-57)" font-size="4.6" text-anchor="middle" dy="1.6" fill="#111" stroke="#111" stroke-width="0.1">22Q3</text><text transform="translate(250.10,114.65) scale(1,1.0)" font-size="6.7" textLength="27.8" lengthAdjust="spacingAndGlyphs" fill="#111">Indonesia</text><text transform="translate(186.55,125.90) scale(1,1.1)" font-size="5" text-anchor="end" fill="#111" stroke="#111" stroke-width="0.08">7,500</text><text transform="translate(186.55,135.36) scale(1,1.1)" font-size="5" text-anchor="end" fill="#111" stroke="#111" stroke-width="0.08">7,000</text><text transform="translate(186.55,144.83) scale(1,1.1)" font-size="5" text-anchor="end" fill="#111" stroke="#111" stroke-width="0.08">6,500</text><text transform="translate(186.55,154.29) scale(1,1.1)" font-size="5" text-anchor="end" fill="#111" stroke="#111" stroke-width="0.08">6,000</text><text transform="translate(186.55,163.75) scale(1,1.1)" font-size="5" text-anchor="end" fill="#111" stroke="#111" stroke-width="0.08">5,500</text><text transform="translate(186.55,173.21) scale(1,1.1)" font-size="5" text-anchor="end" fill="#111" stroke="#111" stroke-width="0.08">5,000</text><text transform="translate(186.55,182.67) scale(1,1.1)" font-size="5" text-anchor="end" fill="#111" stroke="#111" stroke-width="0.08">4,500</text><text transform="translate(186.55,192.14) scale(1,1.1)" font-size="5" text-anchor="end" fill="#111" stroke="#111" stroke-width="0.08">4,000</text><text transform="translate(186.55,201.60) scale(1,1.1)" font-size="5" text-anchor="end" fill="#111" stroke="#111" stroke-width="0.08">3,500</text><text transform="translate(197.80,207.20) rotate(-57)" font-size="4.6" text-anchor="middle" dy="1.6" fill="#111" stroke="#111" stroke-width="0.1">18Q3</text><text transform="translate(213.82,207.20) rotate(-57)" font-size="4.6" text-anchor="middle" dy="1.6" fill="#111" stroke="#111" stroke-width="0.1">19Q1</text><text transform="translate(229.84,207.20) rotate(-57)" font-size="4.6" text-anchor="middle" dy="1.6" fill="#111" stroke="#111" stroke-width="0.1">19Q3</text><text transform="translate(245.86,207.20) rotate(-57)" font-size="4.6" text-anchor="middle" dy="1.6" fill="#111" stroke="#111" stroke-width="0.1">20Q1</text><text transform="translate(261.88,207.20) rotate(-57)" font-size="4.6" text-anchor="middle" dy="1.6" fill="#111" stroke="#111" stroke-width="0.1">20Q3</text><text transform="translate(277.90,207.20) rotate(-57)" font-size="4.6" text-anchor="middle" dy="1.6" fill="#111" stroke="#111" stroke-width="0.1">21Q1</text><text transform="translate(293.92,207.20) rotate(-57)" font-size="4.6" text-anchor="middle" dy="1.6" fill="#111" stroke="#111" stroke-width="0.1">21Q3</text><text transform="translate(309.94,207.20) rotate(-57)" font-size="4.6" text-anchor="middle" dy="1.6" fill="#111" stroke="#111" stroke-width="0.1">22Q1</text><text transform="translate(325.96,207.20) rotate(-57)" font-size="4.6" text-anchor="middle" dy="1.6" fill="#111" stroke="#111" stroke-width="0.1">22Q3</text><text transform="translate(422.20,114.65) scale(1,1.0)" font-size="6.7" textLength="26.0" lengthAdjust="spacingAndGlyphs" fill="#111">Malaysia</text><text transform="translate(358.55,125.90) scale(1,1.1)" font-size="5" text-anchor="end" fill="#111" stroke="#111" stroke-width="0.08">2,000</text><text transform="translate(358.55,135.36) scale(1,1.1)" font-size="5" text-anchor="end" fill="#111" stroke="#111" stroke-width="0.08">1,900</text><text transform="translate(358.55,144.83) scale(1,1.1)" font-size="5" text-anchor="end" fill="#111" stroke="#111" stroke-width="0.08">1,800</text><text transform="translate(358.55,154.29) scale(1,1.1)" font-size="5" text-anchor="end" fill="#111" stroke="#111" stroke-width="0.08">1,700</text><text transform="translate(358.55,163.75) scale(1,1.1)" font-size="5" text-anchor="end" fill="#111" stroke="#111" stroke-width="0.08">1,600</text><text transform="translate(358.55,173.21) scale(1,1.1)" font-size="5" text-anchor="end" fill="#111" stroke="#111" stroke-width="0.08">1,500</text><text transform="translate(358.55,182.67) scale(1,1.1)" font-size="5" text-anchor="end" fill="#111" stroke="#111" stroke-width="0.08">1,400</text><text transform="translate(358.55,192.14) scale(1,1.1)" font-size="5" text-anchor="end" fill="#111" stroke="#111" stroke-width="0.08">1,300</text><text transform="translate(358.55,201.60) scale(1,1.1)" font-size="5" text-anchor="end" fill="#111" stroke="#111" stroke-width="0.08">1,200</text><text transform="translate(369.30,207.20) rotate(-57)" font-size="4.6" text-anchor="middle" dy="1.6" fill="#111" stroke="#111" stroke-width="0.1">18Q3</text><text transform="translate(385.30,207.20) rotate(-57)" font-size="4.6" text-anchor="middle" dy="1.6" fill="#111" stroke="#111" stroke-width="0.1">19Q1</text><text transform="translate(401.30,207.20) rotate(-57)" font-size="4.6" text-anchor="middle" dy="1.6" fill="#111" stroke="#111" stroke-width="0.1">19Q3</text><text transform="translate(417.30,207.20) rotate(-57)" font-size="4.6" text-anchor="middle" dy="1.6" fill="#111" stroke="#111" stroke-width="0.1">20Q1</text><text transform="translate(433.30,207.20) rotate(-57)" font-size="4.6" text-anchor="middle" dy="1.6" fill="#111" stroke="#111" stroke-width="0.1">20Q3</text><text transform="translate(449.30,207.20) rotate(-57)" font-size="4.6" text-anchor="middle" dy="1.6" fill="#111" stroke="#111" stroke-width="0.1">21Q1</text><text transform="translate(465.30,207.20) rotate(-57)" font-size="4.6" text-anchor="middle" dy="1.6" fill="#111" stroke="#111" stroke-width="0.1">21Q3</text><text transform="translate(481.30,207.20) rotate(-57)" font-size="4.6" text-anchor="middle" dy="1.6" fill="#111" stroke="#111" stroke-width="0.1">22Q1</text><text transform="translate(497.30,207.20) rotate(-57)" font-size="4.6" text-anchor="middle" dy="1.6" fill="#111" stroke="#111" stroke-width="0.1">22Q3</text><text transform="translate(592.15,114.65) scale(1,1.0)" font-size="6.7" textLength="29.7" lengthAdjust="spacingAndGlyphs" fill="#111">Philippine</text><text transform="translate(529.30,125.90) scale(1,1.1)" font-size="5" text-anchor="end" fill="#111" stroke="#111" stroke-width="0.08">8,500</text><text transform="translate(529.30,135.36) scale(1,1.1)" font-size="5" text-anchor="end" fill="#111" stroke="#111" stroke-width="0.08">8,000</text><text transform="translate(529.30,144.83) scale(1,1.1)" font-size="5" text-anchor="end" fill="#111" stroke="#111" stroke-width="0.08">7,500</text><text transform="translate(529.30,154.29) scale(1,1.1)" font-size="5" text-anchor="end" fill="#111" stroke="#111" stroke-width="0.08">7,000</text><text transform="translate(529.30,163.75) scale(1,1.1)" font-size="5" text-anchor="end" fill="#111" stroke="#111" stroke-width="0.08">6,500</text><text transform="translate(529.30,173.21) scale(1,1.1)" font-size="5" text-anchor="end" fill="#111" stroke="#111" stroke-width="0.08">6,000</text><text transform="translate(529.30,182.67) scale(1,1.1)" font-size="5" text-anchor="end" fill="#111" stroke="#111" stroke-width="0.08">5,500</text><text transform="translate(529.30,192.14) scale(1,1.1)" font-size="5" text-anchor="end" fill="#111" stroke="#111" stroke-width="0.08">5,000</text><text transform="translate(529.30,201.60) scale(1,1.1)" font-size="5" text-anchor="end" fill="#111" stroke="#111" stroke-width="0.08">4,500</text><text transform="translate(540.50,207.20) rotate(-57)" font-size="4.6" text-anchor="middle" dy="1.6" fill="#111" stroke="#111" stroke-width="0.1">18Q3</text><text transform="translate(556.55,207.20) rotate(-57)" font-size="4.6" text-anchor="middle" dy="1.6" fill="#111" stroke="#111" stroke-width="0.1">19Q1</text><text transform="translate(572.60,207.20) rotate(-57)" font-size="4.6" text-anchor="middle" dy="1.6" fill="#111" stroke="#111" stroke-width="0.1">19Q3</text><text transform="translate(588.65,207.20) rotate(-57)" font-size="4.6" text-anchor="middle" dy="1.6" fill="#111" stroke="#111" stroke-width="0.1">20Q1</text><text transform="translate(604.70,207.20) rotate(-57)" font-size="4.6" text-anchor="middle" dy="1.6" fill="#111" stroke="#111" stroke-width="0.1">20Q3</text><text transform="translate(620.75,207.20) rotate(-57)" font-size="4.6" text-anchor="middle" dy="1.6" fill="#111" stroke="#111" stroke-width="0.1">21Q1</text><text transform="translate(636.80,207.20) rotate(-57)" font-size="4.6" text-anchor="middle" dy="1.6" fill="#111" stroke="#111" stroke-width="0.1">21Q3</text><text transform="translate(652.85,207.20) rotate(-57)" font-size="4.6" text-anchor="middle" dy="1.6" fill="#111" stroke="#111" stroke-width="0.1">22Q1</text><text transform="translate(668.90,207.20) rotate(-57)" font-size="4.6" text-anchor="middle" dy="1.6" fill="#111" stroke="#111" stroke-width="0.1">22Q3</text><text transform="translate(77.90,222.40) scale(1,1.0)" font-size="6.7" textLength="29.6" lengthAdjust="spacingAndGlyphs" fill="#111">Singapore</text><text transform="translate(15.40,233.20) scale(1,1.1)" font-size="5" text-anchor="end" fill="#111" stroke="#111" stroke-width="0.08">3,800</text><text transform="translate(15.40,242.63) scale(1,1.1)" font-size="5" text-anchor="end" fill="#111" stroke="#111" stroke-width="0.08">3,600</text><text transform="translate(15.40,252.05) scale(1,1.1)" font-size="5" text-anchor="end" fill="#111" stroke="#111" stroke-width="0.08">3,400</text><text transform="translate(15.40,261.47) scale(1,1.1)" font-size="5" text-anchor="end" fill="#111" stroke="#111" stroke-width="0.08">3,200</text><text transform="translate(15.40,270.90) scale(1,1.1)" font-size="5" text-anchor="end" fill="#111" stroke="#111" stroke-width="0.08">3,000</text><text transform="translate(15.40,280.32) scale(1,1.1)" font-size="5" text-anchor="end" fill="#111" stroke="#111" stroke-width="0.08">2,800</text><text transform="translate(15.40,289.75) scale(1,1.1)" font-size="5" text-anchor="end" fill="#111" stroke="#111" stroke-width="0.08">2,600</text><text transform="translate(15.40,299.17) scale(1,1.1)" font-size="5" text-anchor="end" fill="#111" stroke="#111" stroke-width="0.08">2,400</text><text transform="translate(15.40,308.60) scale(1,1.1)" font-size="5" text-anchor="end" fill="#111" stroke="#111" stroke-width="0.08">2,200</text><text transform="translate(26.30,314.60) rotate(-57)" font-size="4.6" text-anchor="middle" dy="1.6" fill="#111" stroke="#111" stroke-width="0.1">18Q3</text><text transform="translate(42.32,314.60) rotate(-57)" font-size="4.6" text-anchor="middle" dy="1.6" fill="#111" stroke="#111" stroke-width="0.1">19Q1</text><text transform="translate(58.34,314.60) rotate(-57)" font-size="4.6" text-anchor="middle" dy="1.6" fill="#111" stroke="#111" stroke-width="0.1">19Q3</text><text transform="translate(74.36,314.60) rotate(-57)" font-size="4.6" text-anchor="middle" dy="1.6" fill="#111" stroke="#111" stroke-width="0.1">20Q1</text><text transform="translate(90.38,314.60) rotate(-57)" font-size="4.6" text-anchor="middle" dy="1.6" fill="#111" stroke="#111" stroke-width="0.1">20Q3</text><text transform="translate(106.40,314.60) rotate(-57)" font-size="4.6" text-anchor="middle" dy="1.6" fill="#111" stroke="#111" stroke-width="0.1">21Q1</text><text transform="translate(122.42,314.60) rotate(-57)" font-size="4.6" text-anchor="middle" dy="1.6" fill="#111" stroke="#111" stroke-width="0.1">21Q3</text><text transform="translate(138.44,314.60) rotate(-57)" font-size="4.6" text-anchor="middle" dy="1.6" fill="#111" stroke="#111" stroke-width="0.1">22Q1</text><text transform="translate(154.46,314.60) rotate(-57)" font-size="4.6" text-anchor="middle" dy="1.6" fill="#111" stroke="#111" stroke-width="0.1">22Q3</text><text transform="translate(251.20,222.40) scale(1,1.0)" font-size="6.7" textLength="25.6" lengthAdjust="spacingAndGlyphs" fill="#111">Thailand</text><text transform="translate(186.55,233.20) scale(1,1.1)" font-size="5" text-anchor="end" fill="#111" stroke="#111" stroke-width="0.08">1,900</text><text transform="translate(186.55,241.58) scale(1,1.1)" font-size="5" text-anchor="end" fill="#111" stroke="#111" stroke-width="0.08">1,800</text><text transform="translate(186.55,249.96) scale(1,1.1)" font-size="5" text-anchor="end" fill="#111" stroke="#111" stroke-width="0.08">1,700</text><text transform="translate(186.55,258.33) scale(1,1.1)" font-size="5" text-anchor="end" fill="#111" stroke="#111" stroke-width="0.08">1,600</text><text transform="translate(186.55,266.71) scale(1,1.1)" font-size="5" text-anchor="end" fill="#111" stroke="#111" stroke-width="0.08">1,500</text><text transform="translate(186.55,275.09) scale(1,1.1)" font-size="5" text-anchor="end" fill="#111" stroke="#111" stroke-width="0.08">1,400</text><text transform="translate(186.55,283.47) scale(1,1.1)" font-size="5" text-anchor="end" fill="#111" stroke="#111" stroke-width="0.08">1,300</text><text transform="translate(186.55,291.84) scale(1,1.1)" font-size="5" text-anchor="end" fill="#111" stroke="#111" stroke-width="0.08">1,200</text><text transform="translate(186.55,300.22) scale(1,1.1)" font-size="5" text-anchor="end" fill="#111" stroke="#111" stroke-width="0.08">1,100</text><text transform="translate(186.55,308.60) scale(1,1.1)" font-size="5" text-anchor="end" fill="#111" stroke="#111" stroke-width="0.08">1,000</text><text transform="translate(197.80,314.60) rotate(-57)" font-size="4.6" text-anchor="middle" dy="1.6" fill="#111" stroke="#111" stroke-width="0.1">18Q3</text><text transform="translate(213.82,314.60) rotate(-57)" font-size="4.6" text-anchor="middle" dy="1.6" fill="#111" stroke="#111" stroke-width="0.1">19Q1</text><text transform="translate(229.84,314.60) rotate(-57)" font-size="4.6" text-anchor="middle" dy="1.6" fill="#111" stroke="#111" stroke-width="0.1">19Q3</text><text transform="translate(245.86,314.60) rotate(-57)" font-size="4.6" text-anchor="middle" dy="1.6" fill="#111" stroke="#111" stroke-width="0.1">20Q1</text><text transform="translate(261.88,314.60) rotate(-57)" font-size="4.6" text-anchor="middle" dy="1.6" fill="#111" stroke="#111" stroke-width="0.1">20Q3</text><text transform="translate(277.90,314.60) rotate(-57)" font-size="4.6" text-anchor="middle" dy="1.6" fill="#111" stroke="#111" stroke-width="0.1">21Q1</text><text transform="translate(293.92,314.60) rotate(-57)" font-size="4.6" text-anchor="middle" dy="1.6" fill="#111" stroke="#111" stroke-width="0.1">21Q3</text><text transform="translate(309.94,314.60) rotate(-57)" font-size="4.6" text-anchor="middle" dy="1.6" fill="#111" stroke="#111" stroke-width="0.1">22Q1</text><text transform="translate(325.96,314.60) rotate(-57)" font-size="4.6" text-anchor="middle" dy="1.6" fill="#111" stroke="#111" stroke-width="0.1">22Q3</text></g>
</svg></body></html>
